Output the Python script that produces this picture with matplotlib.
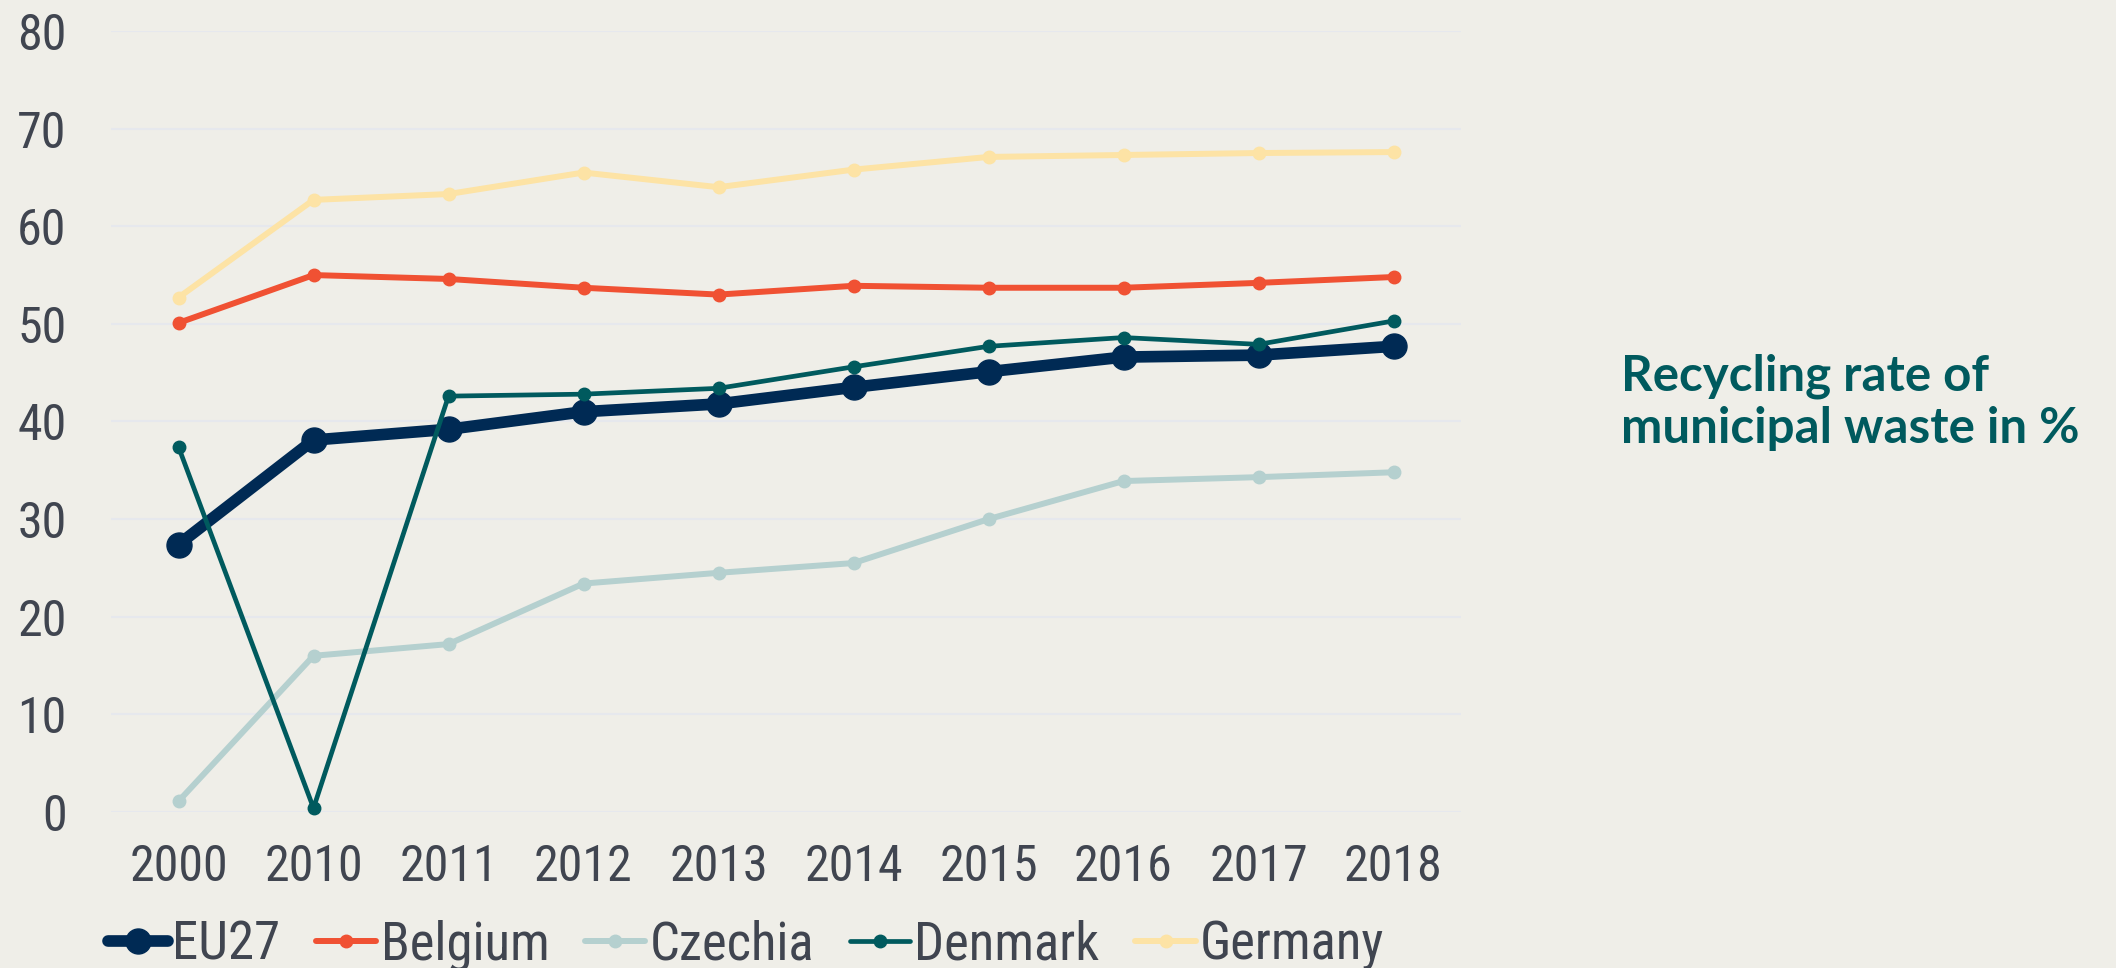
import matplotlib
matplotlib.use("Agg")
import matplotlib.pyplot as plt
from matplotlib import font_manager
from matplotlib.font_manager import FontProperties

years = ["2000", "2010", "2011", "2012", "2013", "2014", "2015", "2016", "2017", "2018"]
eu27 = [27.4, 38.1, 39.2, 41.0, 41.8, 43.5, 45.1, 46.6, 46.8, 47.7]
belgium = [50.1, 55.0, 54.6, 53.7, 53.0, 53.9, 53.7, 53.7, 54.2, 54.8]
czechia = [1.1, 16.0, 17.2, 23.4, 24.5, 25.5, 30.0, 33.9, 34.3, 34.8]
denmark = [37.4, 0.4, 42.6, 42.8, 43.4, 45.6, 47.7, 48.6, 47.9, 50.3]
germany = [52.7, 62.7, 63.3, 65.5, 64.0, 65.8, 67.1, 67.3, 67.5, 67.6]
series_names = ["EU27", "Belgium", "Czechia", "Denmark", "Germany"]
yticks = [0, 10, 20, 30, 40, 50, 60, 70, 80]
title_text = "Recycling rate of\nmunicipal waste in %"

# look for a condensed regular sans face
cands = []
for f in font_manager.fontManager.ttflist:
    if f.stretch in ("condensed", "semi-condensed", "extra-condensed") or "Narrow" in f.name or "Condensed" in f.name:
        if f.weight in (400, "normal", "regular") and f.style == "normal":
            cands.append(f)
pref = ["Liberation Sans Narrow", "Noto Sans", "Open Sans", "Roboto", "DejaVu Sans"]
chosen = None
for p in pref:
    for f in cands:
        if f.name.startswith(p):
            chosen = f
            break
    if chosen:
        break
if chosen is None and cands:
    chosen = cands[0]
if chosen is not None:
    base_fp = dict(fname=chosen.fname)
    size = 36
else:
    base_fp = dict(family="Roboto")
    size = 31

def fp(sz):
    return FontProperties(size=sz, **base_fp)

bg = "#efeee8"
txt = "#404550"
fig = plt.figure(figsize=(21.16, 9.68), dpi=100, facecolor=bg)
ax = fig.add_axes([111/2116, 156/968, 1350/2116, 781/968], facecolor=bg)

x = list(range(len(years)))
styles = [
    (eu27, "#002a54", 8.4, 18),
    (belgium, "#f05133", 4.3, 9),
    (czechia, "#b5d0cf", 4.3, 9),
    (denmark, "#005a5e", 3.4, 9),
    (germany, "#fde3a5", 4.3, 9),
]
for i, (vals, col, lw, ms) in enumerate(styles):
    ax.plot(x, vals, color=col, lw=lw, marker="o", ms=ms, label=series_names[i],
            clip_on=False, zorder=3 + i, solid_capstyle="round")

ax.set_xlim(-0.5, len(years) - 0.5)
ax.set_ylim(0, 80)
ax.set_yticks(yticks)
ax.set_yticklabels([str(v) for v in yticks])
ax.set_xticks(x)
ax.set_xticklabels(years)
ax.grid(axis="y", color="#e6e8ed", lw=1.6, zorder=0)
ax.set_axisbelow(True)
for s in ax.spines.values():
    s.set_visible(False)
ax.tick_params(axis="y", length=0, pad=32, labelcolor=txt)
ax.tick_params(axis="x", length=0, pad=22, labelcolor=txt)
for lab in ax.get_xticklabels() + ax.get_yticklabels():
    lab.set_fontproperties(fp(size))

leg = fig.legend(loc="center", bbox_to_anchor=(746/2116, 23/968), ncol=5,
                 frameon=False, prop=fp(size + 2), handlelength=1.14, handletextpad=0.08,
                 columnspacing=0.68, borderaxespad=0, borderpad=0)
for t in leg.get_texts():
    t.set_color(txt)

fig.text(1621/2116, 1 - 443/968, title_text, color="#005a5e", fontsize=35.5,
         fontweight="bold", family=["Lato", "DejaVu Sans"], ha="left", va="baseline",
         linespacing=1.2)
fig.savefig("out.png", dpi=100, facecolor=bg)
